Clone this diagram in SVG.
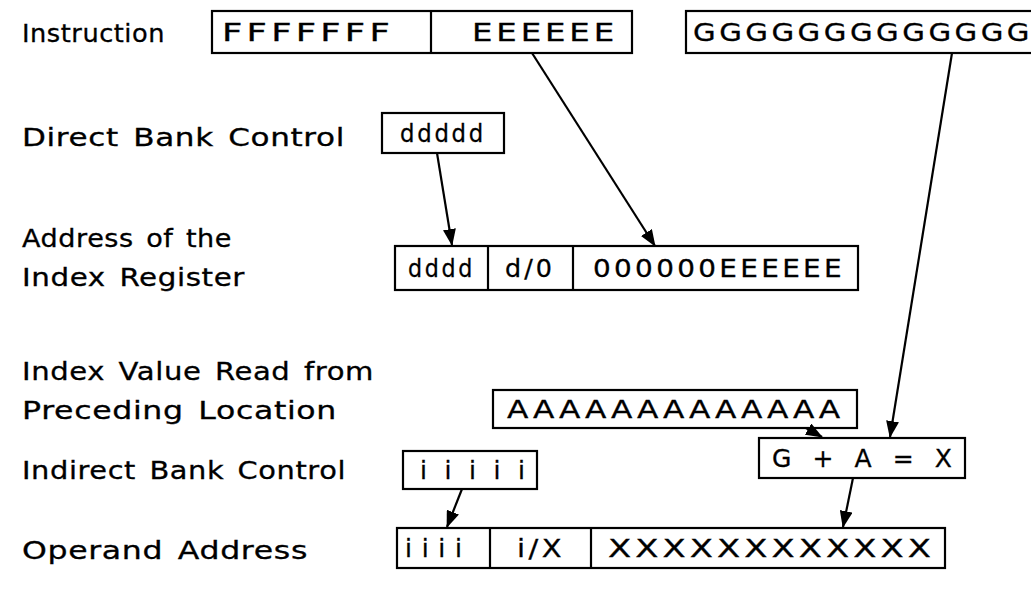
<svg xmlns="http://www.w3.org/2000/svg" width="1031" height="593" viewBox="0 0 1031 593">
<style>
  .lbl { font-family: "DejaVu Sans", "Liberation Sans", sans-serif; font-size: 24px; letter-spacing: 0.5px; word-spacing: 3px; fill: #000; stroke: #000; stroke-width: 0.3px; }
  .val { font-family: "DejaVu Sans", "Liberation Sans", sans-serif; font-size: 25px; letter-spacing: 3px; fill: #000; stroke: #000; stroke-width: 0.3px; }
  .sp { font-family: "DejaVu Sans", "Liberation Sans", sans-serif; font-size: 25px; fill: #000; stroke: #000; stroke-width: 0.3px; }
  .box { fill: #fff; stroke: #000; stroke-width: 2.2; }
  .div { stroke: #000; stroke-width: 2.2; }
  .conn { stroke: #000; stroke-width: 2.2; fill: none; marker-end: url(#ah); }
</style>
<defs>
  <marker id="ah" markerWidth="17" markerHeight="13" refX="16" refY="6.5" orient="auto" markerUnits="userSpaceOnUse">
    <path d="M0,0 L17,6.5 L0,13 Z" fill="#000"/>
  </marker>
</defs>
<rect width="1031" height="593" fill="#fff"/>

<g id="labels">
  <text class="lbl" x="22" y="42" textLength="143" lengthAdjust="spacingAndGlyphs">Instruction</text>
  <text class="lbl" x="22" y="146" textLength="323" lengthAdjust="spacingAndGlyphs">Direct Bank Control</text>
  <text class="lbl" x="22" y="247" textLength="210" lengthAdjust="spacingAndGlyphs">Address of the</text>
  <text class="lbl" x="22" y="286" textLength="223" lengthAdjust="spacingAndGlyphs">Index Register</text>
  <text class="lbl" x="22" y="380" textLength="352" lengthAdjust="spacingAndGlyphs">Index Value Read from</text>
  <text class="lbl" x="22" y="419" textLength="315" lengthAdjust="spacingAndGlyphs">Preceding Location</text>
  <text class="lbl" x="22" y="479" textLength="324" lengthAdjust="spacingAndGlyphs">Indirect Bank Control</text>
  <text class="lbl" x="22" y="559" textLength="286" lengthAdjust="spacingAndGlyphs">Operand Address</text>
</g>

<g id="instruction">
  <rect class="box" x="212" y="11" width="420" height="42"/>
  <line class="div" x1="431" y1="11" x2="431" y2="53"/>
  <text class="val" x="222" y="41" textLength="172" lengthAdjust="spacingAndGlyphs">FFFFFFF</text>
  <text class="val" x="472" y="41" textLength="146" lengthAdjust="spacingAndGlyphs">EEEEEE</text>
</g>

<g id="gfield">
  <rect class="box" x="686" y="11" width="360" height="42"/>
  <text class="val" x="693" y="41" textLength="340" lengthAdjust="spacingAndGlyphs">GGGGGGGGGGGGG</text>
</g>

<g id="direct-bank">
  <rect class="box" x="382" y="113" width="122" height="40"/>
  <text class="val" x="400" y="142" textLength="86" lengthAdjust="spacingAndGlyphs">ddddd</text>
</g>

<g id="index-register">
  <rect class="box" x="395" y="246" width="463" height="44"/>
  <line class="div" x1="488" y1="246" x2="488" y2="290"/>
  <line class="div" x1="573" y1="246" x2="573" y2="290"/>
  <text class="val" x="408" y="277" textLength="67" lengthAdjust="spacingAndGlyphs">dddd</text>
  <text class="val" x="505" y="277" textLength="50" lengthAdjust="spacingAndGlyphs">d/0</text>
  <text class="val" x="593" y="277" textLength="252" lengthAdjust="spacingAndGlyphs">000000EEEEEE</text>
</g>

<g id="index-value">
  <rect class="box" x="493" y="390" width="364" height="38"/>
  <text class="val" x="507" y="418" textLength="337" lengthAdjust="spacingAndGlyphs">AAAAAAAAAAAAA</text>
</g>

<g id="indirect-bank">
  <rect class="box" x="403" y="451" width="134" height="38"/>
  <text class="sp" x="420" y="479" textLength="105" lengthAdjust="spacing">i i i i i</text>
</g>

<g id="sum">
  <rect class="box" x="759" y="438" width="206" height="40"/>
  <text class="sp" x="772" y="467" textLength="180" lengthAdjust="spacing">G + A = X</text>
</g>

<g id="operand">
  <rect class="box" x="397" y="528" width="548" height="40"/>
  <line class="div" x1="490" y1="528" x2="490" y2="568"/>
  <line class="div" x1="591" y1="528" x2="591" y2="568"/>
  <text class="sp" x="405" y="557" textLength="57" lengthAdjust="spacing">i i i i</text>
  <text class="val" x="517" y="557" textLength="48" lengthAdjust="spacingAndGlyphs">i/X</text>
  <text class="val" x="608" y="557" textLength="327" lengthAdjust="spacingAndGlyphs">XXXXXXXXXXXX</text>
</g>

<g id="connectors">
  <line class="conn" x1="532" y1="53" x2="655" y2="246"/>
  <line class="conn" x1="437" y1="153" x2="452" y2="245"/>
  <line class="conn" x1="952" y1="53" x2="890" y2="437"/>
  <line class="conn" x1="806" y1="428" x2="822" y2="437"/>
  <line class="conn" x1="462" y1="489" x2="447" y2="527"/>
  <line class="conn" x1="853" y1="478" x2="843" y2="527"/>
</g>
</svg>
